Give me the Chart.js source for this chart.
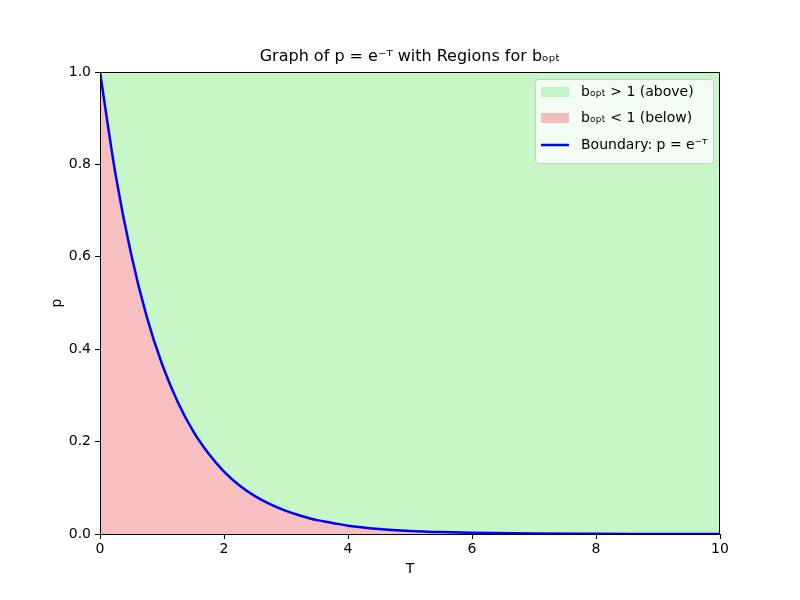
<!DOCTYPE html>
<html>
<head>
<meta charset="utf-8">
<script src="https://cdn.jsdelivr.net/npm/chart.js@4"></script>
<style>
  body { margin: 0; background: #fff; }
  #wrap { width: 800px; height: 600px; }
</style>
</head>
<body>
<div id="wrap"><canvas id="grafico" width="800" height="600"></canvas></div>
<script>
// valores
const valoresT = [0, 0.25, 0.5, 0.75, 1, 1.25, 1.5, 1.75, 2, 2.25, 2.5, 2.75, 3, 3.25, 3.5, 3.75, 4, 4.5, 5, 5.5, 6, 7, 8, 9, 10];
const valoresP = [1.0, 0.779, 0.607, 0.472, 0.368, 0.287, 0.223, 0.174, 0.135, 0.105, 0.082, 0.064, 0.050, 0.039, 0.030, 0.024, 0.018, 0.011, 0.0067, 0.0041, 0.0025, 0.0009, 0.0003, 0.0001, 0.00005];
const techo = valoresT.map(() => 1);
const ticksX = [0, 2, 4, 6, 8, 10];
const ticksY = [0, 0.2, 0.4, 0.6, 0.8, 1.0];

const etiquetas = ['b\u2092\u209a\u209c > 1 (above)', 'b\u2092\u209a\u209c < 1 (below)', 'Boundary: p = e\u207b\u1d40'];
const titulo = 'Graph of p = e\u207b\u1d40 with Regions for b\u2092\u209a\u209c';
const fuente = '"DejaVu Sans", sans-serif';

const puntos = (ys) => valoresT.map((t, i) => ({ x: t, y: ys[i] }));

// marco, titulos y leyenda estilo matplotlib
const marcoPlugin = {
    id: 'marco',
    afterDatasetsDraw(chart) {
        const { ctx, chartArea: a } = chart;
        ctx.save();
        ctx.strokeStyle = '#000';
        ctx.lineWidth = 1;
        ctx.strokeRect(a.left + 0.5, a.top + 0.5, a.right - a.left - 1, a.bottom - a.top);

        // titulo y nombres de ejes
        const cx = (a.left + a.right) / 2;
        ctx.fillStyle = '#000';
        ctx.textAlign = 'center';
        ctx.textBaseline = 'middle';
        ctx.font = '16px ' + fuente;
        ctx.fillText(titulo, cx, a.top - 15);
        ctx.font = '14px ' + fuente;
        ctx.fillText('T', cx, a.bottom + 35);
        ctx.save();
        ctx.translate(a.left - 43, (a.top + a.bottom) / 2);
        ctx.rotate(-Math.PI / 2);
        ctx.fillText('p', 0, 0);
        ctx.restore();

        // leyenda
        const w = 178, h = 84;
        const x0 = a.right - 7 - w, y0 = a.top + 7;
        ctx.fillStyle = 'rgba(255,255,255,0.8)';
        ctx.strokeStyle = '#cccccc';
        ctx.beginPath();
        ctx.roundRect(x0 + 0.5, y0 + 0.5, w, h, 3);
        ctx.fill();
        ctx.stroke();
        const filas = [y0 + 13, y0 + 39, y0 + 66];
        ctx.fillStyle = 'rgba(144,238,144,0.5)';
        ctx.fillRect(x0 + 6, filas[0] - 5, 28, 10);
        ctx.fillStyle = 'rgba(240,128,128,0.5)';
        ctx.fillRect(x0 + 6, filas[1] - 5, 28, 10);
        ctx.strokeStyle = 'blue';
        ctx.lineWidth = 2.5;
        ctx.beginPath();
        ctx.moveTo(x0 + 6, filas[2]);
        ctx.lineTo(x0 + 34, filas[2]);
        ctx.stroke();
        ctx.fillStyle = '#000';
        ctx.font = '14px ' + fuente;
        ctx.textAlign = 'left';
        etiquetas.forEach((txt, i) => ctx.fillText(txt, x0 + 46, filas[i]));
        ctx.restore();
    }
};

const ctx = document.getElementById('grafico').getContext('2d');
new Chart(ctx, {
    type: 'line',
    data: {
        datasets: [
            {
                label: etiquetas[0],
                data: puntos(techo),
                borderWidth: 0,
                pointRadius: 0,
                backgroundColor: 'rgba(144,238,144,0.5)',
                fill: 1,
                order: 3
            },
            {
                label: etiquetas[1],
                data: puntos(valoresP),
                borderWidth: 0,
                pointRadius: 0,
                cubicInterpolationMode: 'monotone',
                backgroundColor: 'rgba(240,128,128,0.5)',
                fill: 'origin',
                order: 2
            },
            {
                label: etiquetas[2],
                data: puntos(valoresP),
                borderColor: 'blue',
                borderWidth: 2.5,
                pointRadius: 0,
                cubicInterpolationMode: 'monotone',
                fill: false,
                order: 1
            }
        ]
    },
    options: {
        responsive: false,
        animation: false,
        layout: { padding: { left: 0, right: 80, top: 72, bottom: 0 } },
        plugins: {
            legend: { display: false },
            tooltip: { enabled: false },
            title: { display: false }
        },
        scales: {
            x: {
                type: 'linear',
                min: 0,
                max: 10,
                afterBuildTicks: (s) => { s.ticks = ticksX.map(v => ({ value: v })); },
                afterFit: (s) => { s.height = 66; },
                ticks: { color: '#000', font: { family: fuente, size: 14 }, padding: 2, maxRotation: 0, callback: (v) => String(v) },
                grid: { drawOnChartArea: false, drawTicks: true, tickLength: 5, color: '#000' },
                border: { color: '#000' }
            },
            y: {
                type: 'linear',
                min: 0,
                max: 1,
                afterBuildTicks: (s) => { s.ticks = ticksY.map(v => ({ value: v })); },
                afterFit: (s) => { s.width = 100; },
                ticks: { color: '#000', font: { family: fuente, size: 14 }, padding: 4, callback: (v) => v.toFixed(1) },
                grid: { drawOnChartArea: false, drawTicks: true, tickLength: 5, color: '#000' },
                border: { color: '#000' }
            }
        }
    },
    plugins: [marcoPlugin]
});
</script>
</body>
</html>
